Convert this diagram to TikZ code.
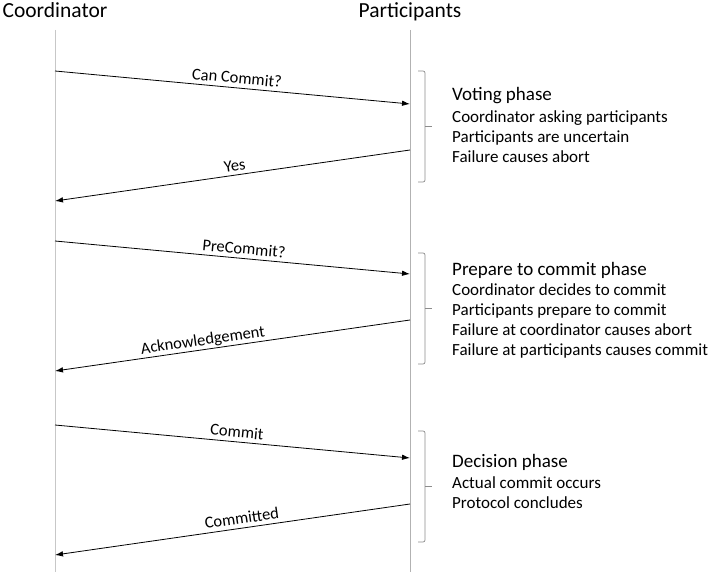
\documentclass[tikz,border=0pt]{standalone}
\usepackage{fontspec}
\setmainfont{Carlito}
\usetikzlibrary{arrows.meta}

\tikzset{
  actor/.style={font=\fontsize{21.5}{24}\selectfont, inner sep=0pt, anchor=base},
  lifeline/.style={black!30, line width=0.8pt},
  msg/.style={-{Latex[length=8pt,width=5.5pt]}, line width=0.8pt},
  msglabel/.style={font=\fontsize{16.5}{19}\selectfont, sloped, above=4pt, inner sep=0pt, text depth=0pt},
  bracket/.style={black!45, line width=0.7pt, rounded corners=2pt},
  phasehead/.style={font=\fontsize{19}{22}\selectfont, anchor=base west, inner sep=0pt},
  phasetext/.style={font=\fontsize{17}{20}\selectfont, align=left, anchor=base west, inner sep=0pt},
}

\begin{document}
\begin{tikzpicture}[x=1pt, y=-1pt]
  \useasboundingbox (0,0) rectangle (709,572);

  % actors and lifelines
  \node[actor] (coord) at (55,18) {Coordinator};
  \node[actor] (part) at (410,18) {Participants};
  \coordinate (cTop) at (55,30);
  \coordinate (cBot) at (55,572);
  \coordinate (pTop) at (410,30);
  \coordinate (pBot) at (410,572);
  \draw[lifeline, black!22] (cTop) -- (cBot);
  \draw[lifeline] (pTop) -- (pBot);

  % message end points
  \coordinate (c1) at (55,71);   \coordinate (p1) at (410,104);
  \coordinate (p2) at (410,150); \coordinate (c2) at (55,201);
  \coordinate (c3) at (55,241);  \coordinate (p3) at (410,274);
  \coordinate (p4) at (410,320); \coordinate (c4) at (55,371);
  \coordinate (c5) at (55,425);  \coordinate (p5) at (410,458);
  \coordinate (p6) at (410,504); \coordinate (c6) at (55,555);

  % messages
  \draw[msg] (c1) -- (p1) node[msglabel, pos=0.51] {Can Commit?};
  \draw[msg] (p2) -- (c2) node[msglabel, pos=0.49] {Yes};
  \draw[msg] (c3) -- (p3) node[msglabel, pos=0.53] {PreCommit?};
  \draw[msg] (p4) -- (c4) node[msglabel, pos=0.58] {Acknowledgement};
  \draw[msg] (c5) -- (p5) node[msglabel, pos=0.51] {Commit};
  \draw[msg] (p6) -- (c6) node[msglabel, pos=0.47] {Committed};

  % phase brackets
  \draw[bracket] (418,71) -| (425,126.5) |- (418,182);
  \draw[bracket] (425,126.5) -- (432,126.5);
  \draw[bracket] (418,253) -| (425,308.5) |- (418,364);
  \draw[bracket] (425,308.5) -- (432,308.5);
  \draw[bracket] (418,431) -| (425,486.5) |- (418,542);
  \draw[bracket] (425,486.5) -- (432,486.5);

  % phase descriptions (multi-line text sits on its last baseline)
  \node[phasehead] (voteHead) at (452,101) {Voting phase};
  \node[phasetext] (voteText) at (452,163) {Coordinator asking participants\\Participants are uncertain\\Failure causes abort};
  \node[phasehead] (prepHead) at (452,275) {Prepare to commit phase};
  \node[phasetext] (prepText) at (452,355) {Coordinator decides to commit\\Participants prepare to commit\\Failure at coordinator causes abort\\Failure at participants causes commit};
  \node[phasehead] (decHead) at (452,467) {Decision phase};
  \node[phasetext] (decText) at (452,508) {Actual commit occurs\\Protocol concludes};
\end{tikzpicture}
\end{document}
